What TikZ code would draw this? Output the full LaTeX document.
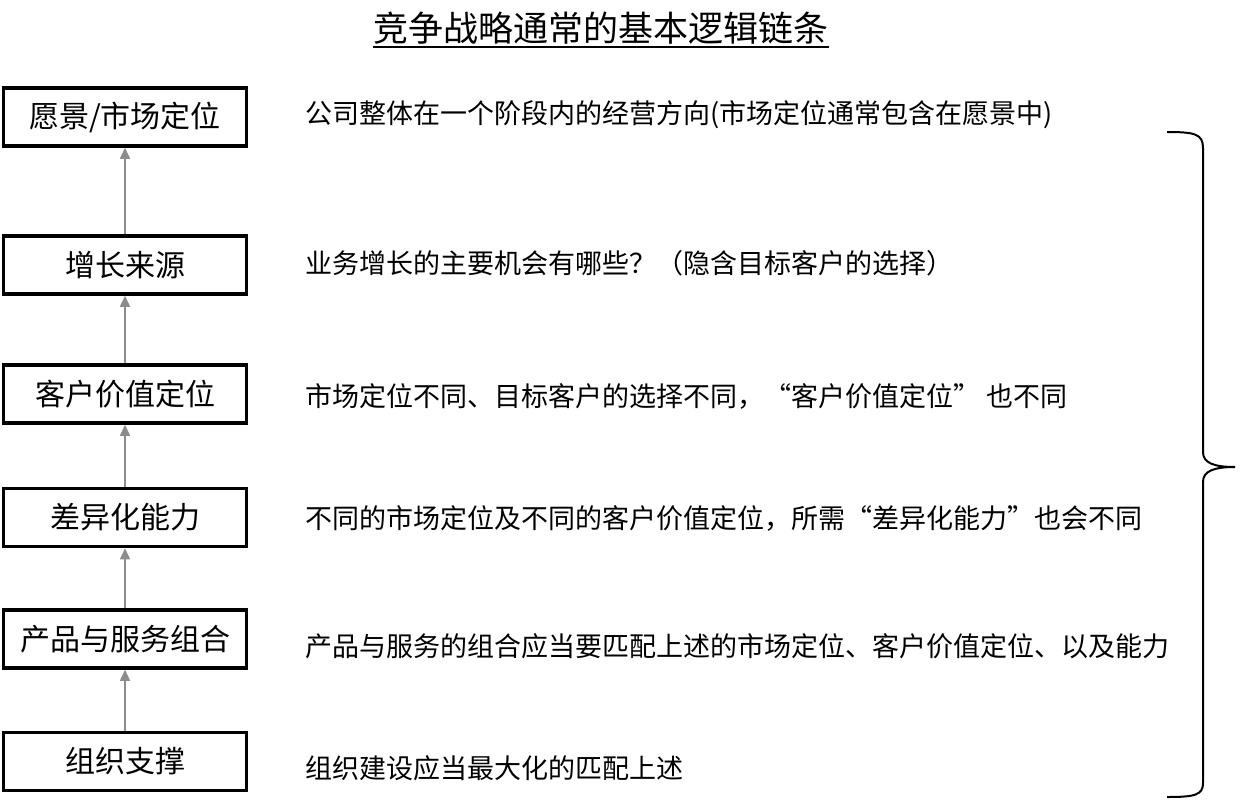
\documentclass[tikz,border=0pt]{standalone}
\usepackage{fontspec}
\setmainfont{Noto Sans CJK SC}
\usetikzlibrary{arrows.meta}
\definecolor{arrowgray}{HTML}{8C8C8C}
\begin{document}
\begin{tikzpicture}[x=1pt,y=-1pt,
  stepbox/.style={draw=black, line width=3.5pt, minimum width=243pt, minimum height=58pt, inner sep=0pt, font=\fontsize{30}{32}\selectfont},
  desc/.style={anchor=west, inner sep=0pt, font=\fontsize{27}{30}\selectfont},
  uparrow/.style={draw=arrowgray, line width=1.5pt, -{Triangle[length=11pt,width=10pt,fill=arrowgray]}}]
\useasboundingbox (0,0) rectangle (1242,804);
\node[font=\fontsize{35}{38}\selectfont, inner sep=0pt] (title) at (601,28) {竞争战略通常的基本逻辑链条};
\draw[line width=2pt] ([yshift=-6pt]title.base west) -- ([yshift=-6pt]title.base east);

\node[stepbox] (b1) at (125,117) {愿景/市场定位};
\node[stepbox] (b2) at (125,265) {增长来源};
\node[stepbox] (b3) at (125,394) {客户价值定位};
\node[stepbox] (b4) at (125,517.5) {差异化能力};
\node[stepbox] (b5) at (125,639) {产品与服务组合};
\node[stepbox] (b6) at (125,761.5) {组织支撑};

\draw[uparrow] (b2.north) -- (b1.south);
\draw[uparrow] (b3.north) -- (b2.south);
\draw[uparrow] (b4.north) -- (b3.south);
\draw[uparrow] (b5.north) -- (b4.south);
\draw[uparrow] (b6.north) -- (b5.south);

\node[desc] (d1) at (305,115) {公司整体在一个阶段内的经营方向(市场定位通常包含在愿景中)};
\node[desc] (d2) at (305,263) {业务增长的主要机会有哪些？（隐含目标客户的选择）};
\node[desc] (d3) at (305,396) {市场定位不同、目标客户的选择不同，“客户价值定位” 也不同};
\node[desc] (d4) at (305,518) {不同的市场定位及不同的客户价值定位，所需“差异化能力”也会不同};
\node[desc] (d5) at (305,646) {产品与服务的组合应当要匹配上述的市场定位、客户价值定位、以及能力};
\node[desc] (d6) at (305,768) {组织建设应当最大化的匹配上述};

\draw[line width=2pt] (1167,132) .. controls (1195,132) and (1203,134) .. (1203,148)
  -- (1203,452) .. controls (1203,463) and (1214,467) .. (1235,467)
  .. controls (1214,467) and (1203,471) .. (1203,482)
  -- (1203,783) .. controls (1203,795) and (1195,797) .. (1167,797);
\end{tikzpicture}
\end{document}
